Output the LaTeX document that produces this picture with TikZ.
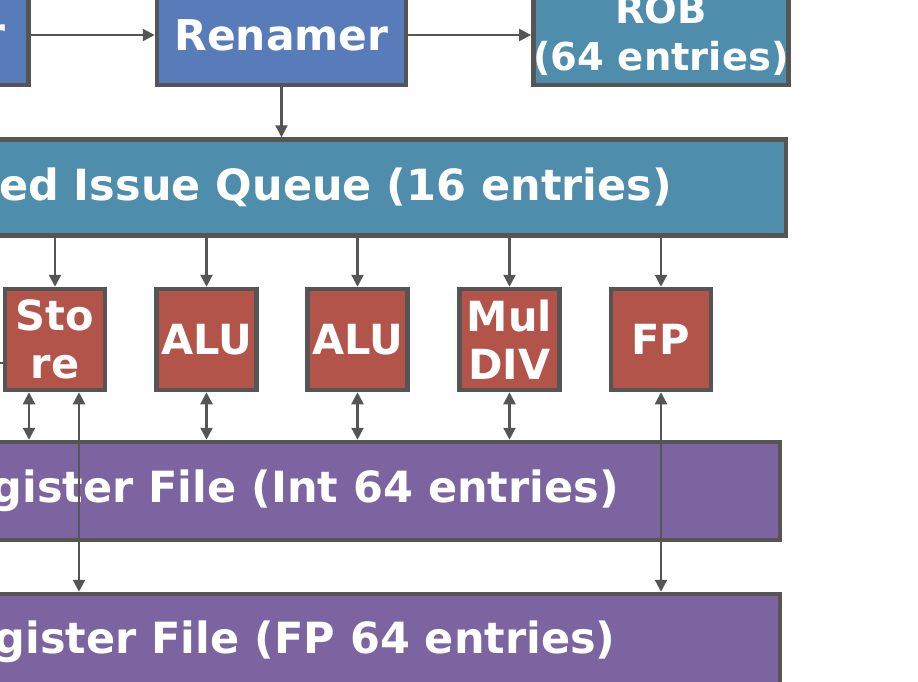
\documentclass[tikz,border=0pt]{standalone}
\usepackage{fontspec}
\setmainfont{DejaVu Sans}
\usetikzlibrary{arrows.meta}
\definecolor{renblue}{HTML}{587CBA}
\definecolor{qteal}{HTML}{4E8DAC}
\definecolor{unitred}{HTML}{B3544A}
\definecolor{rfpurple}{HTML}{7B64A0}
\definecolor{edgegray}{HTML}{555555}
\newcommand{\fsz}[2]{\bfseries\fontsize{#1}{#2}\selectfont}
\begin{document}
\begin{tikzpicture}[x=1pt,y=-1pt,
  box/.style={draw=edgegray, line width=4.5pt, text=white, align=center, inner sep=0pt},
  unit/.style={box, fill=unitred, minimum width=100pt, minimum height=101pt, font=\fsz{41.5}{48}},
  arr/.style={draw=edgegray, line width=2.2pt, -{Triangle[length=12pt,width=12pt]}},
  darr/.style={draw=edgegray, line width=2.2pt, {Triangle[length=12pt,width=12pt]}-{Triangle[length=12pt,width=12pt]}},
  plainline/.style={draw=edgegray, line width=2.2pt}]
\useasboundingbox (0,0) rectangle (918,681);
\clip (0,0) rectangle (918,681);

% top row
\node[box, fill=renblue, minimum width=251pt, minimum height=100pt] (dec) at (-97,35) {};
\node[anchor=base east, text=white, inner sep=0pt, font=\fsz{42.4}{48}] (dectxt) at (6,48) {Decoder};
\node[box, fill=renblue, minimum width=249pt, minimum height=100pt, font=\fsz{42.4}{48}] (ren) at (281.5,35) {Renamer};
\node[box, fill=qteal, minimum width=252pt, minimum height=100pt, font=\fsz{38.5}{47}] (rob) at (661,35) {ROB\\(64 entries)};

% issue queue
\node[box, fill=qteal, minimum width=1012.5pt, minimum height=96pt, font=\fsz{43}{48}] (iq) at (279.5,187.5) {Unified Issue Queue (16 entries)};

% units
\node[unit] (st) at (55,339.5) {Sto\\re};
\node[unit] (alua) at (206.5,339.5) {ALU};
\node[unit] (alub) at (357.5,339.5) {ALU};
\node[unit] (md) at (509.5,339.5) {Mul\\DIV};
\node[unit] (fp) at (661,339.5) {FP};

% register files
\node[box, fill=rfpurple, minimum width=1011.5pt, minimum height=98pt, font=\fsz{43}{48}] (irf) at (274,491) {Register File (Int 64 entries)};
\node[box, fill=rfpurple, minimum width=1011.5pt, minimum height=96pt, font=\fsz{43}{48}] (frf) at (274,642) {Register File (FP 64 entries)};

% connectors top
\draw[arr] (dec) -- (ren);
\draw[arr] (ren) -- (rob);
\draw[arr] (ren.south) -- (ren.south |- iq.north);

% issue to units
\draw[arr] (iq.south -| st) -- (st.north);
\draw[arr] (iq.south -| alua) -- (alua.north);
\draw[arr] (iq.south -| alub) -- (alub.north);
\draw[arr] (iq.south -| md) -- (md.north);
\draw[arr] (iq.south -| fp) -- (fp.north);

% units to register files
\coordinate (sa) at ([xshift=-26pt]st.south);
\coordinate (sb) at ([xshift=24pt]st.south);
\draw[darr] (sa) -- (sa |- irf.north);
\draw[darr] (sb) -- (sb |- frf.north);
\draw[darr] (alua.south) -- (alua.south |- irf.north);
\draw[darr] (alub.south) -- (alub.south |- irf.north);
\draw[darr] (md.south) -- (md.south |- irf.north);
\draw[darr] (fp.south) -- (fp.south |- frf.north);

% stub into store from the left
\coordinate (lsq) at (-30,363);
\draw[plainline] (lsq) -- (lsq -| st.west);
\end{tikzpicture}
\end{document}
